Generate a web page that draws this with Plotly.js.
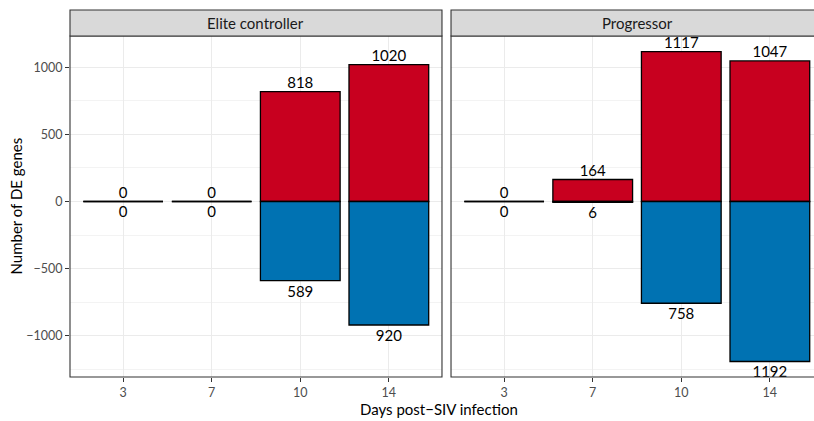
<!DOCTYPE html>
<html>
<head>
<meta charset="utf-8">
<script src="https://cdn.plot.ly/plotly-3.0.1.min.js"></script>
<style>
  html, body { margin: 0; padding: 0; overflow: hidden; background: #ffffff; }
  #chart { width: 823px; height: 421px; }
</style>
</head>
<body>
<div id="chart"></div>
<script>
// Days post-infection (x categories) and the two facet groups
const days = ['3', '7', '10', '14'];
const groups = ['Elite controller', 'Progressor'];

// Number of up- and down-regulated DE genes per day
const upElite = [0, 0, 818, 1020];
const downElite = [0, 0, 589, 920];
const upProg = [0, 164, 1117, 1047];
const downProg = [0, 6, 758, 1192];

const RED = '#C8001F';
const BLUE = '#0072B2';
const FONT = 'Lato, "Open Sans", sans-serif';

const idx = days.map((d, i) => i);

function panelTraces(up, down, xa, ya) {
  const neg = down.map(v => -v);
  return [
    {
      type: 'bar', x: idx, y: up, width: 0.9, xaxis: xa, yaxis: ya,
      marker: { color: RED, line: { color: '#000000', width: 1.3 } },
      hoverinfo: 'skip', showlegend: false
    },
    {
      type: 'bar', x: idx, y: neg, width: 0.9, xaxis: xa, yaxis: ya,
      marker: { color: BLUE, line: { color: '#000000', width: 1.3 } },
      hoverinfo: 'skip', showlegend: false
    },
    // value labels above the up bars
    {
      type: 'scatter', mode: 'text', x: idx, y: up, xaxis: xa, yaxis: ya,
      text: up.map(String), textposition: 'top center', cliponaxis: false,
      textfont: { family: FONT, size: 15, color: '#000000' },
      hoverinfo: 'skip', showlegend: false
    },
    // value labels below the down bars (invisible markers set the gap)
    {
      type: 'scatter', mode: 'markers+text', x: idx, y: neg, xaxis: xa, yaxis: ya,
      marker: { size: 6, color: 'rgba(0,0,0,0)' },
      text: down.map(String), textposition: 'bottom center', cliponaxis: false,
      textfont: { family: FONT, size: 15, color: '#000000' },
      hoverinfo: 'skip', showlegend: false
    }
  ];
}

const data = [
  ...panelTraces(upElite, downElite, 'x', 'y'),
  ...panelTraces(upProg, downProg, 'x2', 'y2')
];

const yTop = 0.929;
const yRange = [-1307.5, 1232.5];

const xBase = {
  type: 'linear', range: [-0.6, 3.6],
  tickmode: 'array', tickvals: idx, ticktext: days,
  showgrid: true, gridcolor: '#EBEBEB', gridwidth: 1.1,
  zeroline: false, showline: false,
  ticks: 'outside', ticklen: 4, tickwidth: 1.1, tickcolor: '#333333',
  tickfont: { family: FONT, size: 12.5, color: '#4D4D4D' },
  fixedrange: true
};
const yBase = {
  range: yRange, domain: [0, yTop],
  tickmode: 'linear', tick0: 0, dtick: 500,
  showgrid: true, gridcolor: '#EBEBEB', gridwidth: 1.1,
  minor: { dtick: 250, tick0: 0, showgrid: true, gridcolor: '#EBEBEB', gridwidth: 0.6, ticks: '' },
  zeroline: false, showline: false,
  tickfont: { family: FONT, size: 12.5, color: '#4D4D4D' },
  fixedrange: true
};

function panelShapes(xa, ya) {
  return [
    // panel border
    {
      type: 'rect', xref: xa + ' domain', yref: ya + ' domain',
      x0: 0, x1: 1, y0: 0, y1: 1,
      line: { color: '#333333', width: 1.1 }, fillcolor: 'rgba(0,0,0,0)', layer: 'above'
    },
    // facet strip
    {
      type: 'rect', xref: xa + ' domain', yref: 'paper',
      x0: 0, x1: 1, y0: yTop, y1: 1,
      line: { color: '#333333', width: 1.1 }, fillcolor: '#D9D9D9', layer: 'above'
    }
  ];
}

const layout = {
  width: 823, height: 421,
  margin: { l: 70, r: 0, t: 10, b: 44 },
  paper_bgcolor: '#ffffff', plot_bgcolor: '#ffffff',
  barmode: 'overlay',
  font: { family: FONT },
  xaxis: Object.assign({}, xBase, { domain: [0, 0.494], anchor: 'y' }),
  xaxis2: Object.assign({}, xBase, { domain: [0.506, 1], anchor: 'y2' }),
  yaxis: Object.assign({}, yBase, {
    anchor: 'x', ticks: 'outside', ticklen: 4, tickwidth: 1.1, tickcolor: '#333333'
  }),
  yaxis2: Object.assign({}, yBase, {
    anchor: 'x2', matches: 'y', showticklabels: false, ticks: ''
  }),
  shapes: [...panelShapes('x', 'y'), ...panelShapes('x2', 'y2')],
  annotations: [
    {
      text: groups[0], xref: 'x domain', yref: 'paper', x: 0.5, y: (yTop + 1) / 2,
      xanchor: 'center', yanchor: 'middle', showarrow: false,
      font: { family: FONT, size: 15, color: '#1A1A1A' }
    },
    {
      text: groups[1], xref: 'x2 domain', yref: 'paper', x: 0.5, y: (yTop + 1) / 2,
      xanchor: 'center', yanchor: 'middle', showarrow: false,
      font: { family: FONT, size: 15, color: '#1A1A1A' }
    },
    {
      text: 'Days post\u2212SIV infection', xref: 'paper', yref: 'paper',
      x: 0.49, y: -0.087, xanchor: 'center', yanchor: 'middle', showarrow: false,
      font: { family: FONT, size: 15, color: '#000000' }
    },
    {
      text: 'Number of DE genes', xref: 'paper', yref: 'paper',
      x: -0.0717, y: yTop / 2, xanchor: 'center', yanchor: 'middle', showarrow: false,
      textangle: -90,
      font: { family: FONT, size: 15, color: '#000000' }
    }
  ]
};

Plotly.newPlot('chart', data, layout, { staticPlot: true, displayModeBar: false });
</script>
</body>
</html>
